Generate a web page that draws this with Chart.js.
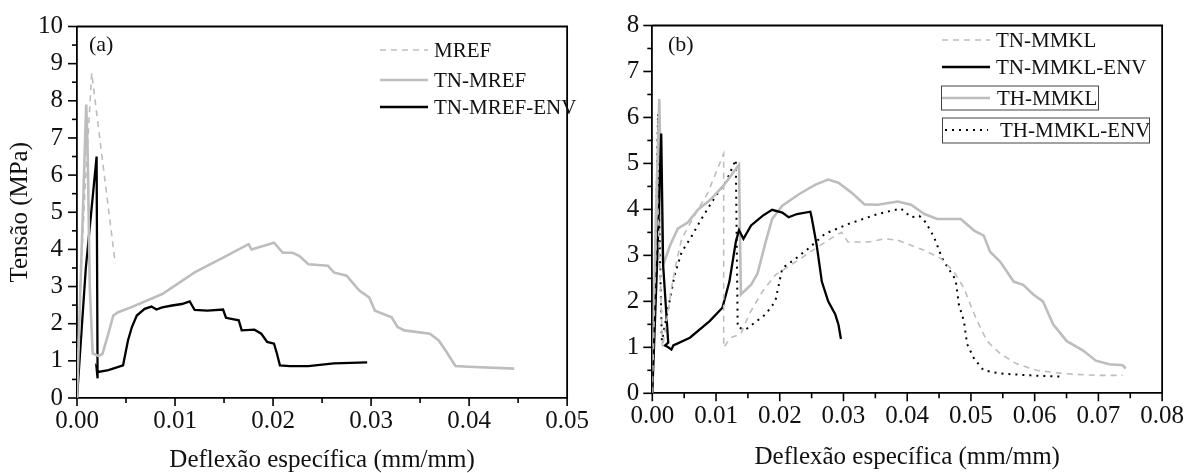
<!DOCTYPE html>
<html lang="pt">
<head>
<meta charset="UTF-8">
<title>Tensão x Deflexão específica</title>
<script src="https://cdn.jsdelivr.net/npm/chart.js@4"></script>
<style>
  body { margin: 0; background: #fff; }
  .painel { position: absolute; top: 0; }
</style>
</head>
<body>
<div class="painel" style="left:0"><canvas id="graficoA" width="600" height="473"></canvas></div>
<div class="painel" style="left:600px"><canvas id="graficoB" width="595" height="473"></canvas></div>
<script>
// (a) argamassas de referência
const mrefX = [0, 0.0003, 0.0008, 0.0015, 0.0039];
const mrefY = [0, 2.8, 5.5, 8.75, 3.62];

const tnMrefX = [0, 0.0005, 0.00094, 0.0011, 0.0013, 0.0016, 0.0022, 0.0026, 0.0032, 0.0037, 0.0042, 0.0055, 0.0087, 0.012, 0.0152, 0.0175, 0.0178, 0.0201, 0.021, 0.022, 0.0227, 0.0236, 0.0256, 0.0262, 0.0275, 0.0288, 0.0298, 0.0304, 0.0321, 0.0327, 0.0334, 0.036, 0.0369, 0.0376, 0.0386, 0.0399, 0.0446];
const tnMrefY = [0, 4.2, 7.9, 6.5, 3.0, 1.2, 1.13, 1.19, 1.73, 2.22, 2.31, 2.44, 2.8, 3.38, 3.82, 4.14, 4.0, 4.18, 3.91, 3.91, 3.82, 3.6, 3.56, 3.38, 3.29, 2.89, 2.71, 2.35, 2.17, 1.91, 1.82, 1.73, 1.55, 1.28, 0.86, 0.84, 0.79];

const tnMrefEnvX = [0, 0.0009, 0.002, 0.0021, 0.002, 0.0022, 0.0032, 0.0047, 0.0052, 0.0056, 0.0061, 0.0069, 0.0076, 0.0081, 0.0087, 0.0097, 0.0107, 0.0115, 0.012, 0.0133, 0.0149, 0.0152, 0.0165, 0.0168, 0.0181, 0.0188, 0.0194, 0.0201, 0.0204, 0.0207, 0.0217, 0.0236, 0.0262, 0.0296];
const tnMrefEnvY = [0, 3.5, 6.5, 0.53, 0.8, 0.7, 0.75, 0.88, 1.55, 1.91, 2.22, 2.4, 2.46, 2.38, 2.44, 2.49, 2.53, 2.6, 2.37, 2.35, 2.38, 2.16, 2.09, 1.82, 1.84, 1.73, 1.51, 1.46, 1.19, 0.88, 0.86, 0.86, 0.93, 0.96];

// (b) argamassas com KL
const tnMmklX = [0, 0.0008, 0.0016, 0.0025, 0.003, 0.0038, 0.0046, 0.0066, 0.0087, 0.0112, 0.0112, 0.0123, 0.0139, 0.0152, 0.0173, 0.0193, 0.0225, 0.0256, 0.0287, 0.0297, 0.0307, 0.0339, 0.0365, 0.0385, 0.0406, 0.0427, 0.0453, 0.0473, 0.0489, 0.0499, 0.051, 0.0525, 0.0546, 0.0572, 0.0603, 0.0644, 0.0696, 0.0738];
const tnMmklY = [0, 4.4, 1.0, 1.79, 2.29, 2.86, 3.36, 3.86, 4.36, 5.21, 1.0, 1.21, 1.29, 1.72, 2.22, 2.57, 2.86, 3.15, 3.43, 3.5, 3.29, 3.29, 3.36, 3.33, 3.22, 3.11, 2.93, 2.65, 2.29, 1.93, 1.57, 1.14, 0.86, 0.64, 0.5, 0.43, 0.39, 0.39];

const tnMmklEnvX = [0, 0.0008, 0.0014, 0.0017, 0.0025, 0.002, 0.0025, 0.003, 0.0033, 0.0059, 0.009, 0.011, 0.0121, 0.0131, 0.0136, 0.0143, 0.0155, 0.0173, 0.0188, 0.0204, 0.0214, 0.0227, 0.0248, 0.025, 0.0258, 0.0266, 0.0276, 0.0287, 0.0292, 0.0296];
const tnMmklEnvY = [0, 3.0, 5.65, 2.79, 1.1, 1.04, 1.0, 0.95, 1.04, 1.21, 1.57, 1.86, 2.43, 3.29, 3.55, 3.36, 3.65, 3.86, 3.99, 3.93, 3.83, 3.9, 3.95, 3.83, 3.22, 2.43, 2.0, 1.72, 1.5, 1.18];

const thMmklX = [0, 0.0005, 0.0011, 0.0014, 0.0017, 0.0028, 0.004, 0.0056, 0.0072, 0.0092, 0.0113, 0.0136, 0.0139, 0.0155, 0.0165, 0.0178, 0.0188, 0.0204, 0.023, 0.0256, 0.0276, 0.0292, 0.0313, 0.0333, 0.0354, 0.0385, 0.0406, 0.0427, 0.0447, 0.0484, 0.0505, 0.052, 0.053, 0.0546, 0.0567, 0.0582, 0.0598, 0.0613, 0.0629, 0.065, 0.0676, 0.0696, 0.0717, 0.0738, 0.0743];
const thMmklY = [0, 3.5, 6.4, 4.0, 2.79, 3.22, 3.58, 3.72, 4.0, 4.22, 4.54, 4.97, 2.15, 2.36, 2.6, 3.3, 3.79, 4.08, 4.33, 4.54, 4.65, 4.58, 4.36, 4.11, 4.1, 4.17, 4.1, 3.9, 3.79, 3.79, 3.54, 3.43, 3.08, 2.86, 2.43, 2.36, 2.15, 2.0, 1.5, 1.14, 0.93, 0.71, 0.63, 0.61, 0.54];

const thMmklEnvX = [0, 0.0005, 0.0009, 0.0012, 0.0015, 0.0028, 0.0035, 0.0046, 0.0061, 0.0077, 0.0098, 0.0116, 0.0131, 0.0134, 0.0147, 0.0178, 0.0193, 0.0204, 0.0225, 0.0245, 0.0271, 0.0307, 0.0354, 0.039, 0.0406, 0.0419, 0.0429, 0.0442, 0.0455, 0.0463, 0.0476, 0.0481, 0.0489, 0.0494, 0.0505, 0.052, 0.0546, 0.0593, 0.0644];
const thMmklEnvY = [0, 3.0, 6.08, 3.0, 1.14, 2.07, 2.57, 3.07, 3.4, 3.79, 4.26, 4.61, 5.08, 1.43, 1.39, 1.72, 2.0, 2.72, 2.93, 3.15, 3.47, 3.68, 3.9, 4.02, 3.83, 3.86, 3.72, 3.4, 2.93, 2.75, 2.47, 1.93, 1.57, 1.07, 0.75, 0.5, 0.43, 0.39, 0.36];

const cinza = '#bdbdbd';
const serif = "'Liberation Serif', 'Times New Roman', serif";

function pontos(xs, ys) {
  return xs.map((x, i) => ({ x: x, y: ys[i] }));
}

function serie(label, xs, ys, cor, largura, traco) {
  return {
    label: label,
    data: pontos(xs, ys),
    borderColor: cor,
    borderWidth: largura,
    borderDash: traco || [],
    showLine: true,
    pointRadius: 0,
    tension: 0,
    fill: false
  };
}

// moldura (topo e direita) e marcas maiores/menores
const molduraPlugin = {
  id: 'moldura',
  afterDraw(chart, args, opts) {
    const ctx = chart.ctx;
    const a = chart.chartArea;
    const sx = chart.scales.x, sy = chart.scales.y;
    ctx.save();
    ctx.strokeStyle = '#000';
    ctx.lineWidth = 1.8;
    ctx.beginPath();
    ctx.moveTo(a.left, a.top);
    ctx.lineTo(a.right, a.top);
    ctx.lineTo(a.right, a.bottom);
    ctx.stroke();
    ctx.lineWidth = 1.6;
    const nx = Math.round(sx.max / 0.005);
    for (let i = 0; i <= nx; i++) {
      const px = sx.getPixelForValue(i * 0.005);
      const len = i % 2 === 0 ? 8 : 5;
      ctx.beginPath();
      ctx.moveTo(px, a.bottom);
      ctx.lineTo(px, a.bottom + len);
      ctx.stroke();
    }
    const ny = Math.round(sy.max / 0.5);
    for (let j = 0; j <= ny; j++) {
      const py = sy.getPixelForValue(j * 0.5);
      const len = j % 2 === 0 ? 9 : 5;
      ctx.beginPath();
      ctx.moveTo(a.left, py);
      ctx.lineTo(a.left - len, py);
      ctx.stroke();
    }
    ctx.restore();
  }
};

const legendaPlugin = {
  id: 'legenda',
  afterDraw(chart, args, opts) {
    const ctx = chart.ctx;
    ctx.save();
    ctx.textBaseline = 'middle';
    chart.data.datasets.forEach((ds, i) => {
      const r = opts.linhas[i];
      ctx.strokeStyle = ds.borderColor;
      ctx.lineWidth = ds.borderWidth;
      ctx.setLineDash(ds.borderDash);
      ctx.beginPath();
      ctx.moveTo(r.x0, r.y);
      ctx.lineTo(r.x1, r.y);
      ctx.stroke();
      ctx.setLineDash([]);
      ctx.fillStyle = '#111';
      ctx.font = '21px ' + serif;
      ctx.fillText(ds.label, r.tx, r.y + 1);
      if (r.caixa) {
        ctx.strokeStyle = '#444';
        ctx.lineWidth = 1;
        ctx.strokeRect(r.caixa[0], r.caixa[1], r.caixa[2], r.caixa[3]);
      }
    });
    ctx.font = '22px ' + serif;
    ctx.fillStyle = '#111';
    ctx.fillText(opts.painel, opts.px, opts.py);
    ctx.restore();
  }
};

function eixos(xMax, yMax, yLarg, xAlt, tituloY, yPad, tituloXPad) {
  return {
    x: {
      type: 'linear', min: 0, max: xMax,
      afterFit: s => { s.height = xAlt; },
      grid: { display: false, drawTicks: false },
      border: { display: true, color: '#000', width: 1.8 },
      ticks: {
        stepSize: 0.01, color: '#111', padding: 11,
        font: { family: serif, size: 25, lineHeight: 1 },
        callback: v => v.toFixed(2)
      },
      title: {
        display: true, text: 'Deflexão específica (mm/mm)', color: '#111',
        font: { family: serif, size: 25, lineHeight: 1 },
        padding: { top: 0, bottom: tituloXPad }
      }
    },
    y: {
      type: 'linear', min: 0, max: yMax,
      afterFit: s => { s.width = yLarg; },
      grid: { display: false, drawTicks: false },
      border: { display: true, color: '#000', width: 1.8 },
      ticks: {
        stepSize: 1, color: '#111', padding: yPad,
        font: { family: serif, size: 25, lineHeight: 1 }
      },
      title: {
        display: tituloY !== '', text: tituloY, color: '#111',
        font: { family: serif, size: 25, lineHeight: 1 },
        padding: { top: 7.5, bottom: 0 }
      }
    }
  };
}

new Chart(document.getElementById('graficoA'), {
  type: 'scatter',
  data: {
    datasets: [
      serie('MREF', mrefX, mrefY, cinza, 1.6, [6, 5]),
      serie('TN-MREF', tnMrefX, tnMrefY, cinza, 2.6),
      serie('TN-MREF-ENV', tnMrefEnvX, tnMrefEnvY, '#000', 2.3)
    ]
  },
  options: {
    responsive: false,
    animation: false,
    layout: { padding: { top: 24.5, right: 9, left: 0, bottom: 0 } },
    plugins: {
      legend: { display: false },
      tooltip: { enabled: false },
      legenda: {
        painel: '(a)', px: 89, py: 45,
        linhas: [
          { x0: 380, x1: 428, tx: 434, y: 50 },
          { x0: 380, x1: 428, tx: 434, y: 80 },
          { x0: 380, x1: 428, tx: 434, y: 107 }
        ]
      }
    },
    scales: eixos(0.05, 10, 77, 75, 'Tensão (MPa)', 14, 0)
  },
  plugins: [molduraPlugin, legendaPlugin]
});

new Chart(document.getElementById('graficoB'), {
  type: 'scatter',
  data: {
    datasets: [
      serie('TN-MMKL', tnMmklX, tnMmklY, cinza, 1.6, [6, 5]),
      serie('TN-MMKL-ENV', tnMmklEnvX, tnMmklEnvY, '#000', 2.3),
      serie('TH-MMKL', thMmklX, thMmklY, cinza, 2.6),
      serie('TH-MMKL-ENV', thMmklEnvX, thMmklEnvY, '#000', 2, [2, 5])
    ]
  },
  options: {
    responsive: false,
    animation: false,
    layout: { padding: { top: 20.7, right: 28.3, left: 0, bottom: 0 } },
    plugins: {
      legend: { display: false },
      tooltip: { enabled: false },
      legenda: {
        painel: '(b)', px: 68, py: 45,
        linhas: [
          { x0: 342, x1: 390, tx: 396, y: 40 },
          { x0: 342, x1: 390, tx: 396, y: 67 },
          { x0: 342, x1: 390, tx: 397, y: 98, caixa: [341.5, 86, 157, 24] },
          { x0: 345, x1: 388, tx: 400, y: 130, caixa: [342.5, 118, 207, 25] }
        ]
      }
    },
    scales: eixos(0.08, 8, 52.3, 79.7, '', 13, 3.5)
  },
  plugins: [molduraPlugin, legendaPlugin]
});
</script>
</body>
</html>
